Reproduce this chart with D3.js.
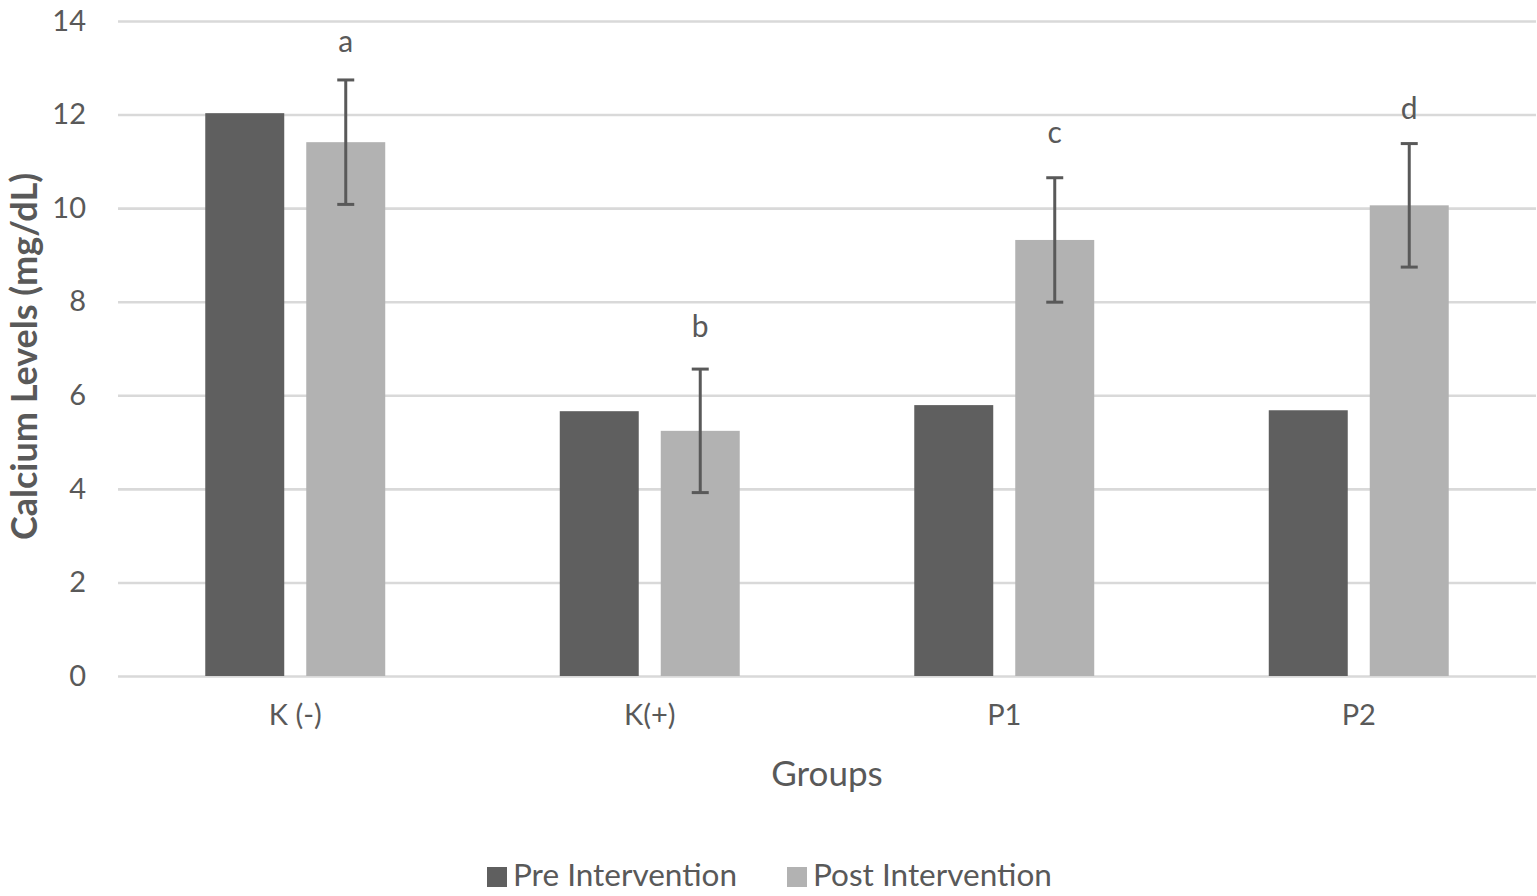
<!DOCTYPE html>
<html>
<head>
<meta charset="utf-8">
<script src="https://cdn.jsdelivr.net/npm/d3@7"></script>
<style>
  html, body { margin: 0; padding: 0; background: #fff; }
  svg { display: block; }
  text { font-family: Lato, "Open Sans", sans-serif; fill: #595959; }
</style>
</head>
<body>
<svg id="chart" width="1537" height="896"></svg>
<script>
const categories = ["K (-)", "K(+)", "P1", "P2"];
const seriesNames = ["Pre Intervention", "Post Intervention"];
const preValues = [12.03, 5.66, 5.79, 5.68];
const postValues = [11.41, 5.24, 9.32, 10.06];
const postErrors = [1.33, 1.32, 1.33, 1.32];
const sigLetters = ["a", "b", "c", "d"];
const sigLetterValues = [13.34, 7.25, 11.39, 11.90];
const yTicks = [0, 2, 4, 6, 8, 10, 12, 14];
const xAxisTitle = "Groups";
const yAxisTitle = "Calcium Levels (mg/dL)";
const colors = ["#5f5f5f", "#b2b2b2"];

const svg = d3.select("#chart");
const plot = { left: 118, right: 1536, top: 21, bottom: 676 };

const x0 = d3.scaleBand().domain(categories).range([plot.left, plot.right]).paddingInner(0).paddingOuter(0);
const x1 = d3.scaleBand().domain(seriesNames).range([0, x0.bandwidth()]).paddingInner(0.218).paddingOuter(0.864);
const y = d3.scaleLinear().domain([0, 14]).range([plot.bottom, plot.top]);
const color = d3.scaleOrdinal().domain(seriesNames).range(colors);

// gridlines
const grid = svg.append("g")
  .attr("transform", `translate(${plot.left},0)`)
  .call(d3.axisLeft(y).tickValues(yTicks).tickSize(-(plot.right - plot.left)).tickFormat(""));
grid.select(".domain").remove();
grid.selectAll(".tick line").attr("stroke", "#d9d9d9").attr("stroke-width", 2.6);

// y tick labels
const yAx = svg.append("g")
  .attr("transform", `translate(${plot.left},0)`)
  .call(d3.axisLeft(y).tickValues(yTicks).tickSize(0).tickPadding(32).tickFormat(d3.format("d")));
yAx.select(".domain").remove();
yAx.selectAll("text").attr("font-size", 29).attr("fill", "#595959").style("font-family", "Lato, sans-serif");

// x axis labels
const xAx = svg.append("g")
  .attr("transform", `translate(0,${plot.bottom})`)
  .call(d3.axisBottom(x0).tickSize(0).tickPadding(28));
xAx.select(".domain").remove();
xAx.selectAll("text").attr("font-size", 29).attr("fill", "#595959").style("font-family", "Lato, sans-serif");

// bars
const rows = categories.map((c, i) => ({ cat: c, vals: [preValues[i], postValues[i]] }));
const groups = svg.append("g").selectAll("g").data(rows).join("g")
  .attr("transform", d => `translate(${x0(d.cat)},0)`);
groups.selectAll("rect")
  .data(d => seriesNames.map((s, j) => ({ s, v: d.vals[j] })))
  .join("rect")
  .attr("x", d => x1(d.s))
  .attr("width", x1.bandwidth())
  .attr("y", d => y(d.v))
  .attr("height", d => y(0) - y(d.v))
  .attr("fill", d => color(d.s));

// error bars on post
const eb = svg.append("g").selectAll("g").data(categories).join("g");
const ex = c => x0(c) + x1(seriesNames[1]) + x1.bandwidth() / 2;
eb.append("line")
  .attr("x1", ex).attr("x2", ex)
  .attr("y1", (c, i) => y(postValues[i] + postErrors[i]))
  .attr("y2", (c, i) => y(postValues[i] - postErrors[i]))
  .attr("stroke", "#595959").attr("stroke-width", 3);
[1, -1].forEach(sign => {
  eb.append("line")
    .attr("x1", c => ex(c) - 8.5).attr("x2", c => ex(c) + 8.5)
    .attr("y1", (c, i) => y(postValues[i] + sign * postErrors[i]))
    .attr("y2", (c, i) => y(postValues[i] + sign * postErrors[i]))
    .attr("stroke", "#595959").attr("stroke-width", 3);
});

// significance letters
svg.append("g").selectAll("text").data(categories).join("text")
  .attr("x", ex)
  .attr("y", (c, i) => y(sigLetterValues[i]))
  .attr("text-anchor", "middle")
  .attr("font-size", 30)
  .attr("fill", "#404040")
  .text((c, i) => sigLetters[i]);

// axis titles
svg.append("text")
  .attr("x", (plot.left + plot.right) / 2)
  .attr("y", 786)
  .attr("text-anchor", "middle")
  .attr("font-size", 35)
  .text(xAxisTitle);

svg.append("text")
  .attr("transform", `translate(37,${(plot.top + plot.bottom) / 2 + 8}) rotate(-90)`)
  .attr("text-anchor", "middle")
  .attr("font-size", 36)
  .attr("font-weight", "bold")
  .text(yAxisTitle);

// legend
const legendX = [487, 787];
const leg = svg.append("g").selectAll("g").data(seriesNames).join("g")
  .attr("transform", (d, i) => `translate(${legendX[i]},867)`);
leg.append("rect").attr("width", 20).attr("height", 20).attr("fill", d => color(d));
leg.append("text").attr("x", 26).attr("y", 19).attr("font-size", 31.5).text(d => d);
</script>
</body>
</html>
